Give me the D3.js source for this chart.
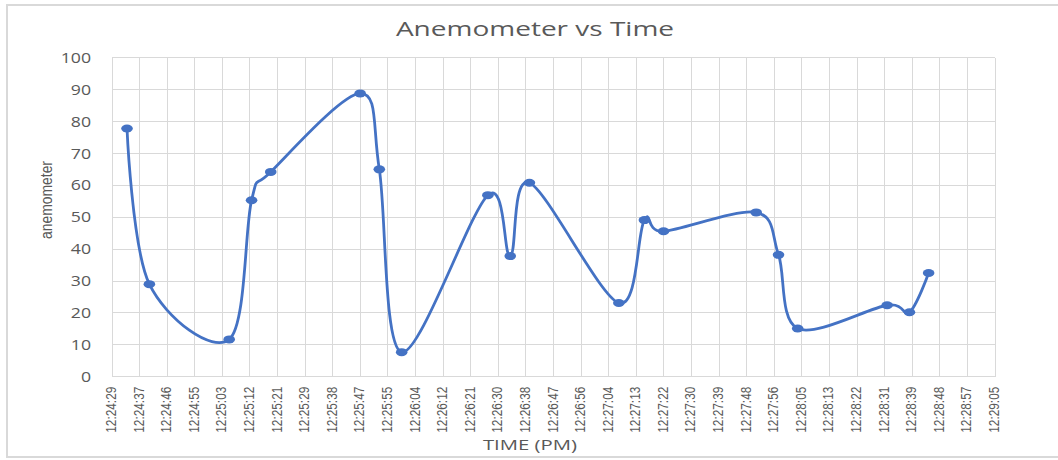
<!DOCTYPE html>
<html>
<head>
<meta charset="utf-8">
<script src="https://cdn.jsdelivr.net/npm/d3@7"></script>
<style>
  html, body { margin: 0; padding: 0; background: #fff; }
  svg { display: block; }
</style>
</head>
<body>
<svg id="chart" width="1058" height="460"></svg>
<script>
// ---- data ----
const times = ["12:24:34", "12:24:41", "12:25:06", "12:25:13", "12:25:19", "12:25:47", "12:25:53",
  "12:26:00", "12:26:27", "12:26:34", "12:26:40", "12:27:08", "12:27:16", "12:27:22",
  "12:27:51", "12:27:58", "12:28:04", "12:28:32", "12:28:39", "12:28:45"];
const anemometer = [77.8, 29.0, 11.7, 55.3, 64.2, 88.8, 65.0, 7.7, 56.9, 37.8, 60.8, 23.1,
  49.1, 45.6, 51.5, 38.2, 15.1, 22.4, 20.2, 32.5];

const xTickLabels = ["12:24:29", "12:24:37", "12:24:46", "12:24:55", "12:25:03", "12:25:12",
  "12:25:21", "12:25:29", "12:25:38", "12:25:47", "12:25:55", "12:26:04", "12:26:12",
  "12:26:21", "12:26:30", "12:26:38", "12:26:47", "12:26:56", "12:27:04", "12:27:13",
  "12:27:22", "12:27:30", "12:27:39", "12:27:48", "12:27:56", "12:28:05", "12:28:13",
  "12:28:22", "12:28:31", "12:28:39", "12:28:48", "12:28:57", "12:29:05"];
const yTicks = [0, 10, 20, 30, 40, 50, 60, 70, 80, 90, 100];

const TITLE = "Anemometer vs Time", X_TITLE = "TIME (PM)", Y_TITLE = "anemometer";

// ---- helpers ----
const toSec = s => { const [h, m, x] = s.split(":").map(Number); return h * 3600 + m * 60 + x; };
const STEP = 8.64;                         // Excel major unit 0.0001 day
const t0 = toSec(xTickLabels[0]) + 0.3;
const tickSecs = xTickLabels.map((_, i) => t0 + i * STEP);

const W = 1058, H = 460;
const M = { left: 112, right: 995, top: 57.7, bottom: 376.7 };
const GRID = "#d9d9d9", TXT = "#595959", BLUE = "#4472c4";
const SANS = "'Open Sans', sans-serif";

const svg = d3.select("#chart");

// chart-area frame
svg.append("rect").attr("x", 7).attr("y", 5).attr("width", W - 7 + 2).attr("height", 452)
  .attr("fill", "#fff").attr("stroke", GRID).attr("stroke-width", 2);

const x = d3.scaleLinear().domain([tickSecs[0], tickSecs[tickSecs.length - 1]]).range([M.left, M.right]);
const y = d3.scaleLinear().domain([0, 100]).range([M.bottom, M.top]);

// gridlines
const grid = svg.append("g").attr("stroke", GRID).attr("stroke-width", 1).attr("shape-rendering", "crispEdges");
grid.selectAll("line.h").data(yTicks).join("line").attr("class", "h")
  .attr("x1", M.left).attr("x2", M.right).attr("y1", d => y(d)).attr("y2", d => y(d));
grid.selectAll("line.v").data(tickSecs).join("line").attr("class", "v")
  .attr("y1", M.top).attr("y2", M.bottom).attr("x1", d => x(d)).attr("x2", d => x(d));

// the reference is a little stretched sideways: widen text with textLength
function stretch(sel, k) {
  sel.each(function () {
    const w = this.getComputedTextLength();
    d3.select(this).attr("textLength", w * k).attr("lengthAdjust", "spacingAndGlyphs");
  });
}

// y axis labels
const yAxis = svg.append("g").attr("transform", `translate(${M.left},0)`)
  .call(d3.axisLeft(y).tickValues(yTicks).tickSize(0).tickPadding(21));
yAxis.select(".domain").remove();
yAxis.selectAll("text").attr("fill", TXT).attr("font-family", SANS).attr("font-size", "14.5px")
  .call(stretch, 1.22);

// x axis labels (rotated, squeezed along their length)
const xAxis = svg.append("g").attr("transform", `translate(0,${M.bottom})`)
  .call(d3.axisBottom(x).tickValues(tickSecs).tickSize(0).tickFormat((d, i) => xTickLabels[i]));
xAxis.select(".domain").remove();
xAxis.selectAll("text")
  .attr("fill", TXT).attr("font-family", "'Liberation Sans', sans-serif")
  .attr("font-size", "15.5px")
  .attr("text-anchor", "end").attr("dy", null).attr("y", 0)
  .attr("transform", "translate(-2,10) rotate(-90)")
  .attr("dominant-baseline", "central")
  .attr("textLength", 46).attr("lengthAdjust", "spacingAndGlyphs");

// titles
svg.append("text").attr("x", 535).attr("y", 36).attr("text-anchor", "middle")
  .attr("fill", TXT).attr("font-family", SANS).attr("font-size", "20px")
  .text(TITLE).call(stretch, 1.4);
svg.append("text").attr("x", 530).attr("y", 450).attr("text-anchor", "middle")
  .attr("fill", TXT).attr("font-family", SANS).attr("font-size", "14.5px")
  .text(X_TITLE).call(stretch, 1.4);
svg.append("text").attr("transform", "translate(52,200) rotate(-90)").attr("text-anchor", "middle")
  .attr("fill", TXT).attr("font-family", "'Liberation Sans', sans-serif").attr("font-size", "17px")
  .text(Y_TITLE).attr("textLength", 78).attr("lengthAdjust", "spacingAndGlyphs");

// series
const pts = times.map((t, i) => ({ t: toSec(t), v: anemometer[i] }));
const line = d3.line().x(d => x(d.t)).y(d => y(d.v)).curve(d3.curveCatmullRom.alpha(0));
svg.append("path").datum(pts).attr("d", line).attr("fill", "none")
  .attr("stroke", BLUE).attr("stroke-width", 2.8).attr("stroke-linejoin", "round").attr("stroke-linecap", "round");
svg.append("g").selectAll("ellipse").data(pts).join("ellipse")
  .attr("cx", d => x(d.t)).attr("cy", d => y(d.v)).attr("rx", 5.8).attr("ry", 4)
  .attr("fill", BLUE);
</script>
</body>
</html>
